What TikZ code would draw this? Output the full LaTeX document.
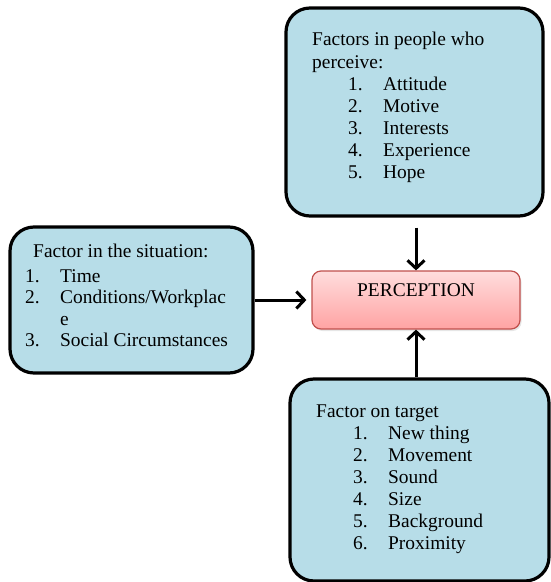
\documentclass[tikz,border=0pt]{standalone}
\usepackage{fontspec}
\setmainfont{Liberation Serif}
\usepackage{tikz}
\usetikzlibrary{arrows.meta, shadows}

\definecolor{boxblue}{HTML}{B7DDE8}
\definecolor{percedge}{HTML}{C0504D}
\definecolor{perctop}{HTML}{FFDDDD}
\definecolor{percbot}{HTML}{FFA3A3}

\newcommand{\itm}[3]{\hspace{#1}\makebox[35bp][l]{#2}#3}

\begin{document}
\begin{tikzpicture}[x=1bp, y=-1bp,
    factorbox/.style={draw=black, line width=3.2bp, fill=boxblue, rounded corners=24bp, inner sep=0pt},
    listtext/.style={anchor=base west, inner sep=0pt, font=\fontsize{19.5}{22.2}\selectfont},
    feed/.style={line width=3bp, -{Straight Barb[length=8bp, width=17bp]}}]
  \useasboundingbox (0,0) rectangle (551,582);

  % Perception
  \node[draw=percedge, line width=1.2bp, rounded corners=9bp,
        top color=perctop, bottom color=percbot,
        drop shadow={opacity=0.2, shadow xshift=1.5bp, shadow yshift=-2bp},
        minimum width=208bp, minimum height=58bp, text depth=19bp,
        font=\fontsize{19.5}{22.2}\selectfont] (perception) at (416,300) {PERCEPTION};

  % Factors in people who perceive
  \node[factorbox, minimum width=257bp, minimum height=208bp] (people) at (414.5,112) {};
  \node[listtext] (peoplelist) at (312,46) {\begin{tabular}[t]{@{}l@{}}
      Factors in people who\\
      perceive:\\
      \itm{36bp}{1.}{Attitude}\\
      \itm{36bp}{2.}{Motive}\\
      \itm{36bp}{3.}{Interests}\\
      \itm{36bp}{4.}{Experience}\\
      \itm{36bp}{5.}{Hope}
    \end{tabular}};

  % Factor in the situation
  \node[factorbox, minimum width=243bp, minimum height=146bp] (situation) at (131.5,300) {};
  \node[listtext, font=\fontsize{19.5}{21.5}\selectfont] (situationlist) at (25,257) {\begin{tabular}[t]{@{}l@{}}
      \hspace{8bp}Factor in the situation:\\[4bp]
      \itm{0bp}{1.}{Time}\\
      \itm{0bp}{2.}{Conditions/Workplac}\\
      \itm{0bp}{}{e}\\
      \itm{0bp}{3.}{Social Circumstances}
    \end{tabular}};

  % Factor on target
  \node[factorbox, minimum width=259bp, minimum height=202bp] (target) at (419.5,480) {};
  \node[listtext] (targetlist) at (316,417) {\begin{tabular}[t]{@{}l@{}}
      Factor on target\\
      \itm{37bp}{1.}{New thing}\\
      \itm{37bp}{2.}{Movement}\\
      \itm{37bp}{3.}{Sound}\\
      \itm{37bp}{4.}{Size}\\
      \itm{37bp}{5.}{Background}\\
      \itm{37bp}{6.}{Proximity}
    \end{tabular}};

  % Arrows
  \draw[feed, shorten <=10bp] (people.south -| perception.north) -- (perception.north);
  \draw[feed, shorten >=5bp] (situation.east) -- (perception.west);
  \draw[feed] (target.north -| perception.south) -- (perception.south);
\end{tikzpicture}
\end{document}
